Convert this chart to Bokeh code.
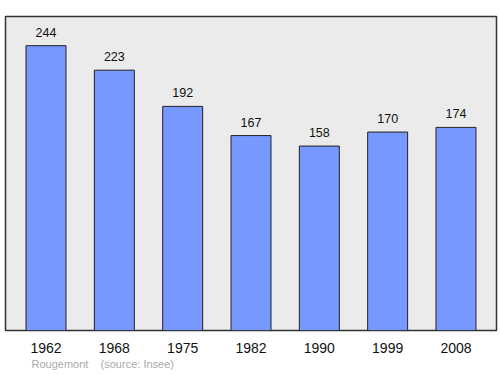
from bokeh.plotting import figure
from bokeh.models import ColumnDataSource, FixedTicker, Title, Range1d
from bokeh.core.properties import value
from bokeh.embed import file_html
from bokeh.resources import INLINE

years = ["1962", "1968", "1975", "1982", "1990", "1999", "2008"]
population = [244, 223, 192, 167, 158, 170, 174]
place = "Rougemont"
source_text = "(source: Insee)"

xs = list(range(len(years)))
src = ColumnDataSource(dict(x=xs, top=population, label=[str(v) for v in population]))

p = figure(width=500, height=374, output_backend="svg", toolbar_location=None,
           x_range=Range1d(-0.593, len(years) - 1 + 0.593), y_range=Range1d(0, 269),
           min_border_left=5, min_border_right=4, min_border_top=16, min_border_bottom=44)
p.background_fill_color = "#ebebeb"
p.border_fill_color = "white"
p.outline_line_color = "#333333"
p.outline_line_width = 1.5
p.grid.visible = False
p.yaxis.visible = False

p.vbar(x="x", top="top", width=0.585, bottom=0, source=src,
       fill_color="#7799ff", line_color="#222222", line_width=1)
p.text(x="x", y="top", text="label", source=src, text_align="center",
       text_baseline="bottom", y_offset=-9, text_font_size="12.5px",
       text_font=value("Liberation Sans"), text_color="#111111")

p.xaxis.ticker = FixedTicker(ticks=xs)
p.xaxis.major_label_overrides = {i: y for i, y in enumerate(years)}
p.xaxis.axis_line_color = None
p.xaxis.major_tick_line_color = None
p.xaxis.minor_tick_line_color = None
p.xaxis.major_label_standoff = 6
p.xaxis.major_label_text_font_size = "14px"
p.xaxis.major_label_text_font = "Liberation Sans"
p.xaxis.major_label_text_color = "#111111"

footer = Title(text=place + "\u00a0\u00a0\u00a0\u00a0" + source_text, align="left",
               offset=26, text_font_size="11px", text_color="#aaaaaa",
               text_font="Liberation Sans", text_font_style="normal",
               standoff=0)
p.add_layout(footer, "below")

open("out.html", "w").write(file_html(p, INLINE))
